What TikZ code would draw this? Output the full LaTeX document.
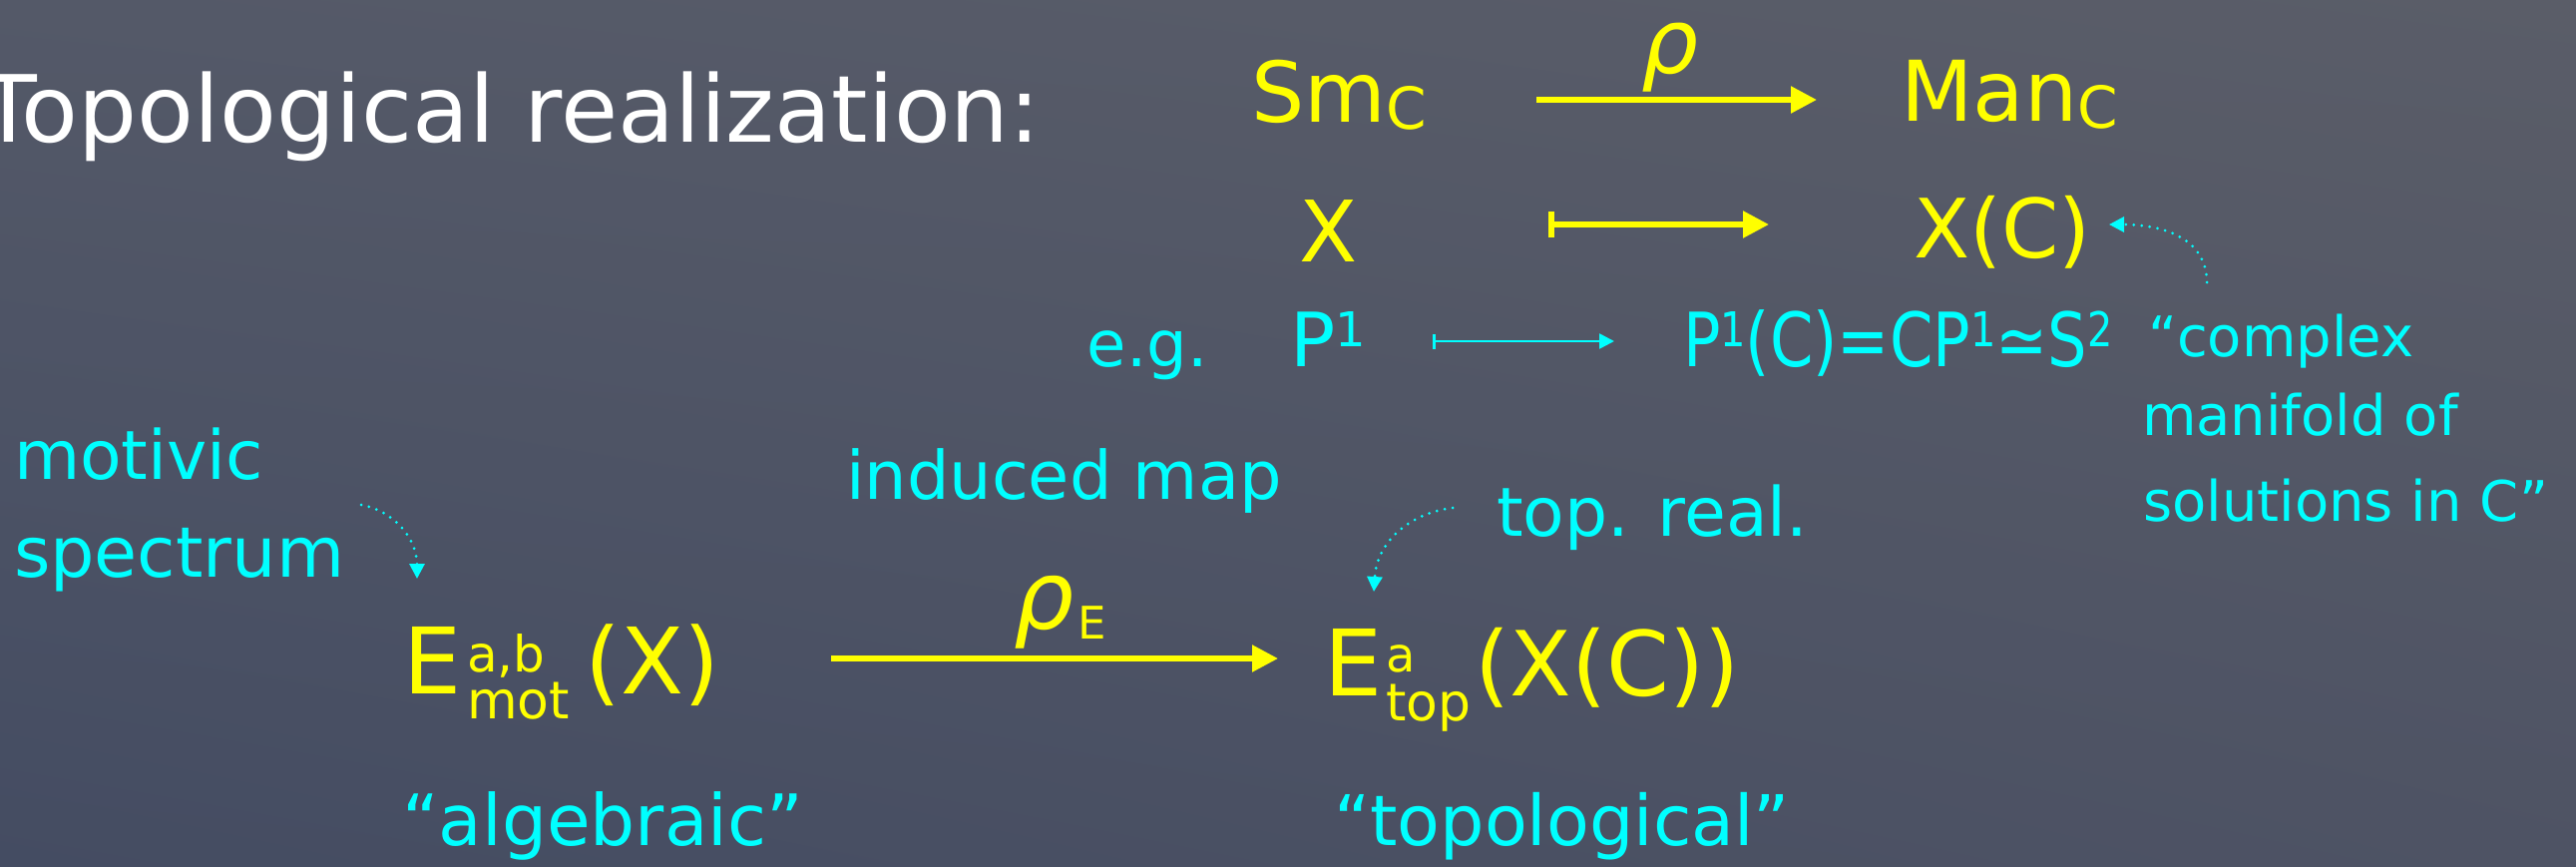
\documentclass[tikz,border=0pt]{standalone}
\usepackage{fontspec}
\setmainfont{DejaVu Sans}
\usepackage{graphicx}
\usetikzlibrary{arrows.meta,shadings}
\definecolor{chalkY}{RGB}{255,255,0}
\definecolor{chalkC}{RGB}{0,255,255}
\definecolor{bgUL}{RGB}{84,89,104}
\definecolor{bgUR}{RGB}{90,93,104}
\definecolor{bgLL}{RGB}{68,76,98}
\definecolor{bgLR}{RGB}{78,83,100}
\newcommand{\fsz}[1]{\fontsize{#1pt}{#1pt}\selectfont}
\begin{document}
\begin{tikzpicture}[x=1pt,y=-1pt,
  txt/.style={inner sep=0pt,outer sep=0pt},
  yel/.style={txt,text=chalkY},
  cy/.style={txt,text=chalkC},
  bigarrow/.style={chalkY,line width=5.5pt,-{Triangle[length=26pt,width=26pt]}},
  yelmaps/.style={chalkY,line width=5.5pt,{Bar[width=26pt]}-{Triangle[length=26pt,width=26pt]}},
  cymaps/.style={chalkC,line width=2.5pt,{Bar[width=15pt]}-{Triangle[length=15pt,width=15pt]}},
  pointer/.style={chalkC,line width=3pt,line cap=round,dash pattern=on 0pt off 8pt,-{Triangle[length=15pt,width=15pt]}}
]
\useasboundingbox (0,0) rectangle (2582,869);
\shade[upper left=bgUL,upper right=bgUR,lower left=bgLL,lower right=bgLR] (0,0) rectangle (2582,869);

% title
\node[txt,text=white,anchor=base east,font=\fsz{93}] (title) at (1043,143) {Topological realization:};

% top row
\node[yel,anchor=base west,font=\fsz{84}] (sm) at (1254,123) {Sm\raisebox{-7pt}{\fsz{58}C}};
\node[yel,anchor=base west,font=\fsz{84}] (man) at (1905,122) {Man\raisebox{-7pt}{\fsz{58}C}};
\node[yel,anchor=base,font=\fsz{90}\itshape] (rho) at (1674,74) {ρ};
\coordinate (ta1) at (1540,100);
\coordinate (ta2) at (1821,100);
\draw[bigarrow] (ta1) -- (ta2);

% second row
\node[yel,anchor=base,font=\fsz{85}] (xx) at (1332,262) {X};
\node[yel,anchor=base west,font=\fsz{82}] (xc) at (1918,258) {X(C)};
\coordinate (ma1) at (1552,225);
\coordinate (ma2) at (1773,225);
\draw[yelmaps] (ma1) -- (ma2);

% example row
\node[cy,anchor=base,font=\fsz{64}] (eg) at (1150,367) {e.g.};
\node[cy,anchor=base west,font=\fsz{75}] (pone) at (1293,367) {P\raisebox{20pt}{\fsz{48}1}};
\node[cy,anchor=base west,font=\fsz{75}] (ponec) at (1687,367) {\scalebox{0.83}[1]{P\raisebox{20pt}{\fsz{48}1}(C)=CP\raisebox{20pt}{\fsz{48}1}≃S\raisebox{20pt}{\fsz{48}2}}};
\coordinate (ca1) at (1436,342);
\coordinate (ca2) at (1618,342);
\draw[cymaps] (ca1) -- (ca2);

% right annotation
\node[cy,anchor=base west,font=\fsz{56}] (cplx) at (2153,357) {“complex};
\node[cy,anchor=base west,font=\fsz{56}] (manif) at (2147,436) {manifold of};
\node[cy,anchor=base west,font=\fsz{56}] (solu) at (2148,522) {solutions in C”};
\coordinate (pa1) at (2212,283);
\coordinate (pa2) at (2114,225);
\draw[pointer] (pa1) .. controls (2212,240) and (2170,225) .. (pa2);

% left annotation
\node[cy,anchor=base west,font=\fsz{68}] (motivic) at (14,480) {motivic};
\node[cy,anchor=base west,font=\fsz{70}] (spectrum) at (14,578) {spectrum};
\coordinate (pb1) at (362,506);
\coordinate (pb2) at (418,580);
\draw[pointer] (pb1) .. controls (395,512) and (418,540) .. (pb2);

% middle annotations
\node[cy,anchor=base west,font=\fsz{67}] (induced) at (848,500) {induced map};
\node[cy,anchor=base west,font=\fsz{68}] (topreal) at (1500,537) {top. real.};
\coordinate (pc1) at (1456,509);
\coordinate (pc2) at (1377,593);
\draw[pointer] (pc1) .. controls (1410,515) and (1380,545) .. (pc2);

% bottom row
\node[yel,anchor=base west,font=\fsz{92}] (emot) at (404,695) {E\hspace{6pt}\rlap{\raisebox{22pt}{\fsz{50}a,b}}\raisebox{-25pt}{\fsz{52}mot}\hspace{16pt}(X)};
\node[yel,anchor=base west,font=\fsz{95}] (rhoE) at (1016,630) {{\itshape ρ}\hspace{4pt}\raisebox{-10pt}{\fsz{45}E}};
\node[yel,anchor=base west,font=\fsz{92}] (etop) at (1327,697) {E\hspace{4pt}\rlap{\raisebox{24pt}{\fsz{48}a}}\raisebox{-25pt}{\fsz{52}top}\hspace{4pt}{\fsz{90}(X(C))}};
\coordinate (ba1) at (833,660);
\coordinate (ba2) at (1281,660);
\draw[bigarrow] (ba1) -- (ba2);

\node[cy,anchor=base west,font=\fsz{71}] (alg) at (403,847) {“algebraic”};
\node[cy,anchor=base west,font=\fsz{70}] (topol) at (1337,847) {“topological”};
\end{tikzpicture}
\end{document}
